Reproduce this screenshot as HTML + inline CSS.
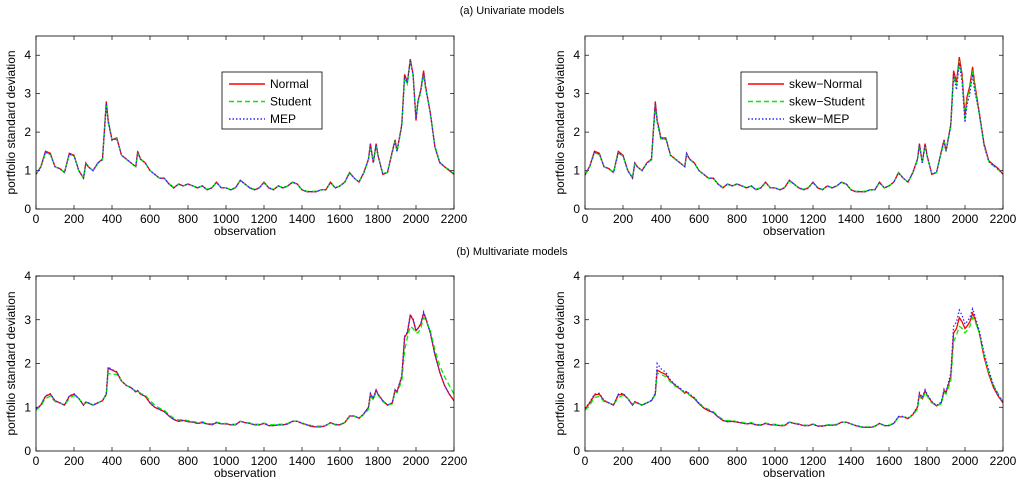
<!DOCTYPE html>
<html><head><meta charset="utf-8">
<style>
body{margin:0;background:#fff;}
svg{display:block;font-family:"Liberation Sans",sans-serif;}
</style></head>
<body>
<svg id="fig" width="1024" height="491" viewBox="0 0 1024 491">
<text x="512" y="14" font-size="11" text-anchor="middle">(a) Univariate models</text>
<text x="512" y="255" font-size="11" text-anchor="middle">(b) Multivariate models</text>
</svg>
<script>
const obs=[0,25,50,75,100,125,150,175,200,225,250,262,275,300,325,350,370,380,400,425,450,475,500,525,535,550,575,600,625,650,675,700,725,750,775,800,825,850,875,900,925,950,975,1000,1025,1050,1075,1100,1125,1150,1175,1200,1225,1250,1275,1300,1325,1350,1375,1400,1425,1450,1475,1500,1525,1550,1575,1600,1625,1650,1675,1700,1725,1750,1760,1775,1790,1800,1825,1850,1875,1890,1900,1925,1940,1955,1970,1985,2000,2010,2025,2040,2050,2075,2100,2125,2150,2175,2200];
const uniNormal=[0.9,1.1,1.5,1.45,1.1,1.05,0.95,1.45,1.4,1.0,0.8,1.2,1.1,1.0,1.2,1.3,2.8,2.3,1.8,1.85,1.4,1.3,1.2,1.1,1.5,1.3,1.2,1.0,0.9,0.8,0.8,0.65,0.55,0.65,0.6,0.65,0.6,0.55,0.6,0.5,0.55,0.7,0.55,0.55,0.5,0.55,0.75,0.65,0.55,0.5,0.55,0.7,0.55,0.5,0.6,0.55,0.6,0.7,0.65,0.5,0.45,0.45,0.45,0.5,0.5,0.7,0.55,0.6,0.7,0.95,0.8,0.7,0.95,1.3,1.7,1.2,1.7,1.4,0.9,0.95,1.5,1.8,1.5,2.2,3.5,3.3,3.9,3.5,2.3,2.8,3.1,3.6,3.2,2.5,1.6,1.2,1.1,1.0,0.9];
const uniStudent=[0.92,1.08,1.47,1.42,1.1,1.04,0.96,1.42,1.38,1.0,0.82,1.17,1.1,1.0,1.18,1.28,2.7,2.25,1.78,1.82,1.4,1.29,1.2,1.1,1.45,1.29,1.19,1.0,0.9,0.8,0.79,0.66,0.56,0.64,0.6,0.64,0.6,0.56,0.6,0.51,0.56,0.68,0.56,0.55,0.51,0.56,0.73,0.64,0.56,0.51,0.56,0.68,0.56,0.51,0.6,0.56,0.6,0.69,0.64,0.5,0.46,0.46,0.46,0.5,0.5,0.68,0.55,0.6,0.7,0.93,0.8,0.7,0.93,1.28,1.65,1.2,1.65,1.38,0.92,0.95,1.47,1.75,1.5,2.15,3.4,3.25,3.85,3.45,2.4,2.75,3.05,3.5,3.15,2.5,1.62,1.22,1.1,1.02,0.92];
const uniMEP=[0.91,1.09,1.48,1.43,1.1,1.05,0.95,1.43,1.39,1.0,0.81,1.18,1.1,1.0,1.19,1.29,2.75,2.28,1.79,1.83,1.4,1.3,1.2,1.1,1.47,1.3,1.2,1.0,0.9,0.8,0.8,0.65,0.55,0.65,0.6,0.65,0.6,0.55,0.6,0.5,0.55,0.69,0.55,0.55,0.5,0.55,0.74,0.65,0.55,0.5,0.55,0.69,0.55,0.5,0.6,0.55,0.6,0.7,0.65,0.5,0.45,0.45,0.45,0.5,0.5,0.69,0.55,0.6,0.7,0.94,0.8,0.7,0.94,1.29,1.68,1.2,1.68,1.39,0.91,0.95,1.48,1.78,1.5,2.18,3.45,3.28,3.88,3.48,2.35,2.78,3.08,3.55,3.18,2.5,1.61,1.21,1.1,1.01,0.91];
const skNormal=[0.88,1.12,1.5,1.45,1.1,1.05,0.95,1.5,1.4,1.0,0.8,1.2,1.1,1.0,1.2,1.3,2.8,2.3,1.85,1.85,1.4,1.3,1.2,1.1,1.45,1.3,1.2,1.0,0.9,0.8,0.8,0.65,0.55,0.65,0.6,0.65,0.6,0.55,0.6,0.5,0.55,0.7,0.55,0.55,0.5,0.55,0.75,0.65,0.55,0.5,0.55,0.7,0.55,0.5,0.6,0.55,0.6,0.7,0.65,0.5,0.45,0.45,0.45,0.5,0.5,0.7,0.55,0.6,0.7,0.95,0.8,0.7,0.95,1.3,1.7,1.2,1.7,1.4,0.9,0.95,1.5,1.8,1.5,2.2,3.6,3.3,3.95,3.5,2.4,2.9,3.2,3.7,3.3,2.5,1.7,1.25,1.15,1.05,0.9];
const skStudent=[0.9,1.1,1.46,1.42,1.1,1.04,0.96,1.45,1.38,1.0,0.82,1.17,1.1,1.0,1.18,1.28,2.7,2.25,1.8,1.82,1.4,1.29,1.2,1.1,1.42,1.29,1.19,1.0,0.9,0.8,0.79,0.66,0.56,0.64,0.6,0.64,0.6,0.56,0.6,0.51,0.56,0.68,0.56,0.55,0.51,0.56,0.73,0.64,0.56,0.51,0.56,0.68,0.56,0.51,0.6,0.56,0.6,0.69,0.64,0.5,0.46,0.46,0.46,0.5,0.5,0.68,0.55,0.6,0.7,0.93,0.8,0.7,0.93,1.28,1.65,1.2,1.65,1.38,0.92,0.95,1.47,1.75,1.5,2.15,3.45,3.2,3.85,3.4,2.3,2.8,3.1,3.6,3.2,2.45,1.65,1.22,1.12,1.02,0.92];
const skMEP=[0.89,1.11,1.48,1.43,1.1,1.05,0.95,1.47,1.39,1.0,0.81,1.18,1.1,1.0,1.19,1.29,2.75,2.28,1.82,1.83,1.4,1.3,1.2,1.1,1.44,1.3,1.2,1.0,0.9,0.8,0.8,0.65,0.55,0.65,0.6,0.65,0.6,0.55,0.6,0.5,0.55,0.69,0.55,0.55,0.5,0.55,0.74,0.65,0.55,0.5,0.55,0.69,0.55,0.5,0.6,0.55,0.6,0.7,0.65,0.5,0.45,0.45,0.45,0.5,0.5,0.69,0.55,0.6,0.7,0.94,0.8,0.7,0.94,1.29,1.68,1.2,1.68,1.39,0.91,0.95,1.48,1.78,1.5,2.18,3.5,3.1,3.8,3.3,2.25,2.7,3.0,3.5,3.1,2.5,1.68,1.23,1.13,1.03,0.91];
const mulNormal=[0.95,1.05,1.25,1.3,1.15,1.1,1.05,1.25,1.3,1.2,1.05,1.12,1.1,1.05,1.1,1.15,1.3,1.9,1.85,1.8,1.6,1.5,1.45,1.35,1.38,1.3,1.25,1.1,1.0,0.95,0.9,0.8,0.72,0.68,0.7,0.67,0.66,0.63,0.65,0.62,0.6,0.65,0.62,0.62,0.6,0.6,0.68,0.65,0.63,0.6,0.6,0.63,0.58,0.58,0.6,0.6,0.62,0.68,0.68,0.63,0.6,0.56,0.55,0.55,0.58,0.65,0.6,0.6,0.65,0.8,0.8,0.75,0.85,1.0,1.3,1.2,1.4,1.3,1.15,1.05,1.1,1.4,1.35,1.7,2.6,2.7,3.1,3.0,2.75,2.8,2.9,3.15,3.05,2.7,2.2,1.8,1.5,1.3,1.15];
const mulStudent=[0.93,1.03,1.2,1.25,1.13,1.1,1.05,1.2,1.27,1.2,1.07,1.1,1.1,1.05,1.1,1.15,1.28,1.78,1.75,1.75,1.6,1.5,1.45,1.37,1.37,1.32,1.27,1.15,1.05,0.98,0.93,0.83,0.75,0.71,0.72,0.69,0.68,0.65,0.67,0.63,0.62,0.66,0.63,0.63,0.61,0.61,0.68,0.66,0.64,0.61,0.61,0.64,0.6,0.6,0.61,0.61,0.63,0.68,0.68,0.64,0.61,0.58,0.57,0.57,0.59,0.64,0.61,0.61,0.65,0.78,0.8,0.75,0.83,0.95,1.25,1.17,1.35,1.28,1.13,1.05,1.08,1.35,1.33,1.6,2.3,2.6,2.85,2.8,2.7,2.7,2.8,3.05,3.0,2.75,2.3,1.95,1.7,1.5,1.3];
const mulMEP=[0.96,1.05,1.26,1.31,1.15,1.1,1.05,1.26,1.31,1.2,1.05,1.12,1.1,1.05,1.1,1.15,1.3,1.92,1.86,1.81,1.6,1.5,1.45,1.35,1.38,1.3,1.25,1.1,1.0,0.95,0.9,0.8,0.72,0.68,0.7,0.67,0.66,0.63,0.65,0.62,0.6,0.65,0.62,0.62,0.6,0.6,0.68,0.65,0.63,0.6,0.6,0.63,0.58,0.58,0.6,0.6,0.62,0.68,0.68,0.63,0.6,0.56,0.55,0.55,0.58,0.65,0.6,0.6,0.65,0.8,0.8,0.75,0.85,1.0,1.32,1.2,1.4,1.3,1.15,1.05,1.1,1.4,1.36,1.72,2.62,2.72,3.12,3.02,2.76,2.8,2.92,3.18,3.06,2.7,2.2,1.8,1.5,1.3,1.15];
const mskNormal=[0.95,1.1,1.28,1.3,1.15,1.1,1.05,1.28,1.3,1.2,1.05,1.12,1.1,1.05,1.1,1.15,1.3,1.85,1.8,1.75,1.6,1.5,1.42,1.32,1.35,1.28,1.2,1.08,0.98,0.92,0.88,0.78,0.7,0.67,0.68,0.66,0.64,0.62,0.63,0.6,0.59,0.63,0.6,0.6,0.58,0.58,0.66,0.63,0.61,0.58,0.58,0.61,0.57,0.57,0.59,0.59,0.6,0.66,0.66,0.62,0.58,0.55,0.54,0.54,0.56,0.63,0.58,0.58,0.63,0.78,0.78,0.74,0.83,1.0,1.3,1.2,1.38,1.28,1.12,1.03,1.1,1.38,1.33,1.7,2.7,2.8,3.05,2.95,2.8,2.85,2.95,3.15,3.05,2.7,2.15,1.75,1.45,1.25,1.1];
const mskStudent=[0.93,1.05,1.22,1.25,1.13,1.1,1.05,1.22,1.27,1.2,1.07,1.1,1.1,1.05,1.1,1.15,1.28,1.78,1.75,1.7,1.58,1.48,1.42,1.33,1.34,1.28,1.22,1.1,1.0,0.95,0.9,0.8,0.72,0.69,0.7,0.67,0.66,0.63,0.65,0.61,0.6,0.64,0.61,0.61,0.59,0.59,0.66,0.64,0.62,0.59,0.59,0.62,0.58,0.58,0.6,0.6,0.61,0.66,0.66,0.62,0.59,0.56,0.55,0.55,0.57,0.63,0.59,0.59,0.63,0.77,0.78,0.74,0.82,0.95,1.25,1.17,1.33,1.26,1.1,1.03,1.08,1.33,1.3,1.6,2.5,2.65,2.85,2.8,2.7,2.75,2.85,3.05,3.0,2.7,2.2,1.8,1.5,1.3,1.12];
const mskMEP=[0.97,1.12,1.3,1.32,1.16,1.1,1.05,1.3,1.32,1.2,1.05,1.13,1.1,1.05,1.1,1.16,1.32,2.0,1.88,1.8,1.62,1.52,1.44,1.34,1.37,1.3,1.22,1.09,0.99,0.93,0.88,0.78,0.7,0.67,0.68,0.66,0.64,0.62,0.63,0.6,0.59,0.63,0.6,0.6,0.58,0.58,0.66,0.63,0.61,0.58,0.58,0.61,0.57,0.57,0.59,0.59,0.6,0.66,0.66,0.62,0.58,0.55,0.54,0.54,0.56,0.63,0.58,0.58,0.63,0.79,0.79,0.75,0.84,1.02,1.33,1.22,1.4,1.3,1.13,1.04,1.12,1.42,1.36,1.78,2.85,2.95,3.22,3.1,2.9,2.95,3.05,3.25,3.12,2.75,2.25,1.85,1.5,1.28,1.1];
const xTicks=[0,200,400,600,800,1000,1200,1400,1600,1800,2000,2200];
const yTicksTop=[0,1,2,3,4];
const yTicksBot=[0,1,2,3,4];

const NS='http://www.w3.org/2000/svg';
const svg=document.getElementById('fig');
function mk(tag,attrs,parent){const e=document.createElementNS(NS,tag);for(const k in attrs)e.setAttribute(k,attrs[k]);(parent||svg).appendChild(e);return e;}

function panel(id,x0,x1,y0,y1,ymax,yticks,series,legend){
  const g=mk('g',{});
  
  
  const sx=v=>x0+(v/2200)*(x1-x0);
  const sy=v=>y1-(v/ymax)*(y1-y0);
  const clipId='c'+id;
  const cp=mk('clipPath',{id:clipId},g);mk('rect',{x:x0,y:y0,width:x1-x0,height:y1-y0},cp);
  xTicks.forEach(t=>{
    const X=sx(t);
    mk('line',{x1:X,x2:X,y1:y1,y2:y1-4,stroke:'#000','stroke-width':0.7},g);
    mk('line',{x1:X,x2:X,y1:y0,y2:y0+4,stroke:'#000','stroke-width':0.7},g);
    const tx=mk('text',{x:X,y:y1+14,'font-size':12,'text-anchor':'middle'},g);tx.textContent=t;
    
    
  });
  yticks.forEach(t=>{
    const Y=sy(t);
    mk('line',{x1:x0,x2:x0+4,y1:Y,y2:Y,stroke:'#000','stroke-width':0.7},g);
    mk('line',{x1:x1,x2:x1-4,y1:Y,y2:Y,stroke:'#000','stroke-width':0.7},g);
    const tx=mk('text',{x:x0-5,y:Y+4,'font-size':12,'text-anchor':'end'},g);tx.textContent=t;
    
    
  });
  const xl=mk('text',{x:(x0+x1)/2,y:y1+26,'font-size':12,'text-anchor':'middle'},g);xl.textContent='observation';
  
  
  const yl=mk('text',{x:0,y:0,'font-size':12,'text-anchor':'middle',transform:`translate(${x0-21},${(y0+y1)/2}) rotate(-90)`},g);yl.textContent='portfolio standard deviation';
  
  
  series.forEach(s=>{
    const d=obs.map((o,i)=>(i?'L':'M')+sx(o).toFixed(1)+','+sy(s.v[i]).toFixed(1)).join('');
    const p=mk('path',{d:d,fill:'none',stroke:s.c,'stroke-width':1.3,'stroke-dasharray':s.dash,'clip-path':`url(#${clipId})`},g);
    
    
  });
  mk('rect',{x:x0,y:y0,width:x1-x0,height:y1-y0,fill:'none',stroke:'#000','stroke-width':0.8},g);
  if(legend){
    const lg=mk('g',{},g);
    
    
    mk('rect',{x:legend.x,y:legend.y,width:legend.w,height:57,fill:'#fff',stroke:'#000','stroke-width':0.8},lg);
    series.forEach((s,i)=>{
      const Y=legend.y+12+i*17.5;
      mk('line',{x1:legend.x+7,x2:legend.x+43,y1:Y,y2:Y,stroke:s.c,'stroke-width':1.5,'stroke-dasharray':s.dash},lg);
      const t=mk('text',{x:legend.x+48,y:Y+4,'font-size':12},lg);t.textContent=s.n;
      
      
    });
  }
}
const sty=(n,v,i)=>({n:n,v:v,c:['#ff0000','#00ee00','#2a2aff'][i],dash:['none','5,3','1.5,2'][i]});
panel('panel-univariate',36,454,36,209,4.5,yTicksTop,[sty('Normal',uniNormal,0),sty('Student',uniStudent,1),sty('MEP',uniMEP,2)],{x:222,y:72,w:100});
panel('panel-univariate-skew',585,1003,36,209,4.5,yTicksTop,[sty('skew\u2212Normal',skNormal,0),sty('skew\u2212Student',skStudent,1),sty('skew\u2212MEP',skMEP,2)],{x:741,y:72,w:136});
panel('panel-multivariate',36,454,276,451,4,yTicksBot,[sty('Normal',mulNormal,0),sty('Student',mulStudent,1),sty('MEP',mulMEP,2)],null);
panel('panel-multivariate-skew',585,1003,276,451,4,yTicksBot,[sty('skew-Normal',mskNormal,0),sty('skew-Student',mskStudent,1),sty('skew-MEP',mskMEP,2)],null);
</script>
</body></html>
